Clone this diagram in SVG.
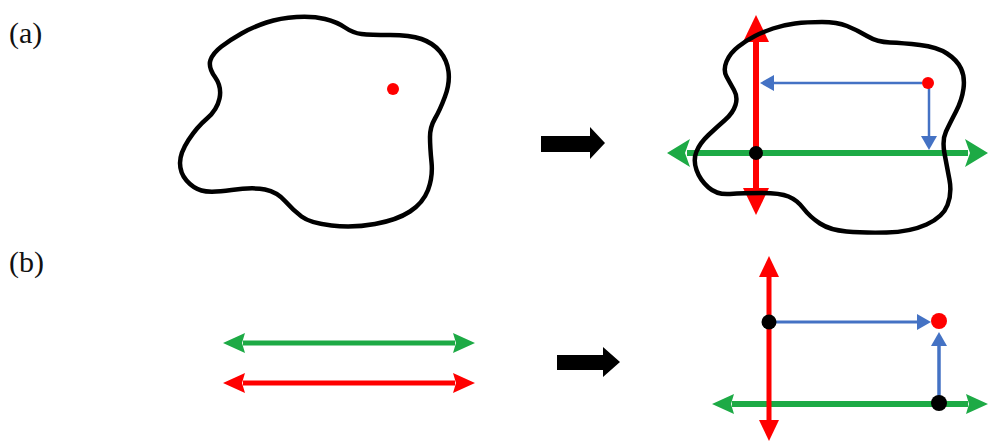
<svg xmlns="http://www.w3.org/2000/svg" width="988" height="442" viewBox="0 0 988 442">
<style>
.lbl{font-family:"Liberation Serif","Times New Roman",serif;font-size:30px;fill:#111}
.blob{fill:none;stroke:#000;stroke-width:4.5;stroke-linejoin:round}
.g{stroke:#1DAA45;fill:none}
.r{stroke:#FF0000;fill:none}
.b{stroke:#4472C4;fill:none}
.blk{fill:#000}
</style>
<defs>
<marker id="hRedA" markerUnits="userSpaceOnUse" overflow="visible" orient="auto-start-reverse" refX="0" refY="0" markerWidth="30" markerHeight="30"><path d="M-2,-13 L25,0 L-2,13 Z" fill="#FF0000"/></marker>
<marker id="hGreenA" markerUnits="userSpaceOnUse" overflow="visible" orient="auto-start-reverse" refX="0" refY="0" markerWidth="30" markerHeight="30"><path d="M-3,-14 L20,0 L-3,14 L2,0 Z" fill="#1DAA45"/></marker>
<marker id="hRedB" markerUnits="userSpaceOnUse" overflow="visible" orient="auto-start-reverse" refX="0" refY="0" markerWidth="30" markerHeight="30"><path d="M-2,-10 L19,0 L-2,10 Z" fill="#FF0000"/></marker>
<marker id="hGreenB" markerUnits="userSpaceOnUse" overflow="visible" orient="auto-start-reverse" refX="0" refY="0" markerWidth="30" markerHeight="30"><path d="M-2,-10 L20,0 L-2,10 L1,0 Z" fill="#1DAA45"/></marker>
<marker id="hRedC" markerUnits="userSpaceOnUse" overflow="visible" orient="auto-start-reverse" refX="0" refY="0" markerWidth="30" markerHeight="30"><path d="M-2,-10 L20,0 L-2,10 L1,0 Z" fill="#FF0000"/></marker>
<marker id="hBlue" markerUnits="userSpaceOnUse" overflow="visible" orient="auto" refX="0" refY="0" markerWidth="20" markerHeight="20"><path d="M-1,-8 L13,0 L-1,8 Z" fill="#4472C4"/></marker>
</defs>

<g id="label-a"><text class="lbl" x="9" y="43">(a)</text></g>
<g id="label-b"><text class="lbl" x="9" y="272">(b)</text></g>

<g id="blob-left">
<path class="blob" d="M210.5,60 Q213,53 221.5,46.5 Q230,40 241.5,33.5 Q253,27 266.5,22.5 Q280,18 296.5,17 Q313,16 325,19 Q337,22 345,27.5 Q353,33 361.5,34 Q370,35 390,35 Q410,35 421.5,39 Q433,43 440,51.5 Q447,60 448.5,71.5 Q450,83 445,96.5 Q440,110 435,118.5 Q430,127 430,137 Q430,147 431.5,162 Q433,177 428,190 Q423,203 410,211.5 Q397,220 375,224 Q353,228 331.5,225.5 Q310,223 301.5,216.5 Q293,210 285,201 Q277,192 265,189.5 Q253,187 231.5,190 Q210,193 201.5,190.5 Q193,188 186.5,180.5 Q180,173 180,163 Q180,153 188.5,140 Q197,127 207,118.5 Q217,110 219.5,98.5 Q222,87 215,77 Q208,67 210.5,60 Z"/>
<circle cx="393" cy="89" r="6" fill="#FF0000"/>
</g>

<g id="arrow-a"><polygon class="blk" points="541,136 590,136 590,127 605,143 590,159 590,152 541,152"/></g>
<g id="arrow-b"><polygon class="blk" points="557,355 603,355 603,347 620,362 603,377 603,370 557,370"/></g>

<g id="connectors">
<line class="g" x1="687" y1="153" x2="968" y2="153" stroke-width="6" marker-start="url(#hGreenA)" marker-end="url(#hGreenA)"/>
<line class="r" x1="756" y1="40" x2="756" y2="190" stroke-width="6" marker-start="url(#hRedA)" marker-end="url(#hRedA)"/>
<line class="b" x1="922" y1="83" x2="773" y2="83" stroke-width="2.5" marker-end="url(#hBlue)"/>
<line class="b" x1="929" y1="88" x2="929" y2="137" stroke-width="2.5" marker-end="url(#hBlue)"/>
<line class="g" x1="243" y1="343" x2="455" y2="343" stroke-width="5" marker-start="url(#hGreenB)" marker-end="url(#hGreenB)"/>
<line class="r" x1="243" y1="383" x2="455" y2="383" stroke-width="5" marker-start="url(#hRedC)" marker-end="url(#hRedC)"/>
<line class="g" x1="732" y1="404" x2="968" y2="404" stroke-width="6" marker-start="url(#hGreenB)" marker-end="url(#hGreenB)"/>
<line class="r" x1="769" y1="275" x2="769" y2="422" stroke-width="5" marker-start="url(#hRedB)" marker-end="url(#hRedB)"/>
<line class="b" x1="776" y1="322" x2="918" y2="322" stroke-width="3" marker-end="url(#hBlue)"/>
<line class="b" x1="939" y1="400" x2="939" y2="345" stroke-width="3.5" marker-end="url(#hBlue)"/>
</g>

<g id="points-a">
<circle cx="756" cy="153" r="7" fill="#000"/>
<circle cx="928" cy="83" r="6" fill="#FF0000"/>
</g>
<g id="points-b">
<circle cx="769" cy="322" r="7.5" fill="#000"/>
<circle cx="939" cy="321" r="8" fill="#FF0000"/>
<circle cx="939" cy="403" r="8" fill="#000"/>
</g>

<g id="blob-right">
<path class="blob" d="M755,36 Q763,32 773,28.5 Q783,25 795,23.5 Q807,22 822,22 Q837,22 847,26 Q857,30 867,36 Q877,42 890,42.5 Q903,43 920,45 Q937,47 947,53.5 Q957,60 961,68.5 Q965,77 963.5,88.5 Q962,100 956,111.5 Q950,123 946,131.5 Q942,140 944.5,153.5 Q947,167 949.5,180 Q952,193 947.5,205 Q943,217 926.5,224.5 Q910,232 886.5,232.5 Q863,233 846.5,231.5 Q830,230 820,223.5 Q810,217 803.5,208.5 Q797,200 788.5,196.5 Q780,193 761.5,193 Q743,193 730,194 Q717,195 708.5,187.5 Q700,180 696.5,170 Q693,160 696.5,151.5 Q700,143 708.5,135 Q717,127 725,120 Q733,113 735.5,105 Q738,97 734,90 Q730,83 726.5,76.5 Q723,70 726.5,61.5 Q730,53 738.5,46.5 Q747,40 755,36 Z"/>
</g>
</svg>
